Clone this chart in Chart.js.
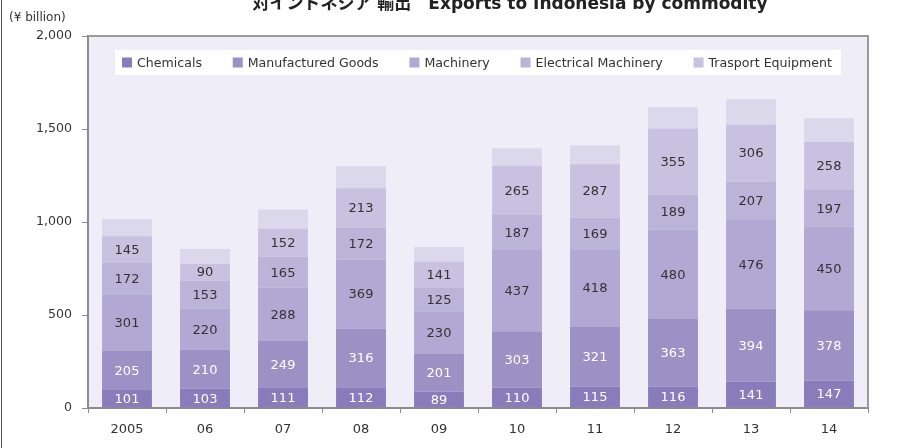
<!DOCTYPE html>
<html>
<head>
<meta charset="utf-8">
<script src="https://cdn.jsdelivr.net/npm/chart.js@4.4.1/dist/chart.umd.min.js"></script>
<style>
  html, body { margin: 0; padding: 0; background: #ffffff; }
  #wrap { width: 902px; height: 448px; position: relative; }
</style>
</head>
<body>
<div id="wrap"><canvas id="c" width="902" height="448"></canvas></div>
<script>
const titleText = '対インドネシア 輸出　Exports to Indonesia by commodity';
const unitLabel = '(¥ billion)';
const years = ['2005', '06', '07', '08', '09', '10', '11', '12', '13', '14'];
const seriesNames = ['Chemicals', 'Manufactured Goods', 'Machinery', 'Electrical Machinery', 'Trasport Equipment'];
const chemicals    = [101, 103, 111, 112,  89, 110, 115, 116, 141, 147];
const manufactured = [205, 210, 249, 316, 201, 303, 321, 363, 394, 378];
const machinery    = [301, 220, 288, 369, 230, 437, 418, 480, 476, 450];
const electrical   = [172, 153, 165, 172, 125, 187, 169, 189, 207, 197];
const transport    = [145,  90, 152, 213, 141, 265, 287, 355, 306, 258];
const others       = [ 92,  79, 102, 118,  80,  94, 103, 114, 136, 128];
const yTicks = [0, 500, 1000, 1500, 2000];

const colors = ['#8a7cba', '#9d90c5', '#b2a8d3', '#bcb3d9', '#c8c1e0', '#dcd8ec'];
const labelColors = ['#ffffff', '#ffffff', '#333333', '#333333', '#333333'];
const FONT = "'DejaVu Sans', Verdana, sans-serif";

const seriesData = [chemicals, manufactured, machinery, electrical, transport];
const datasets = seriesData.map((d, i) => ({
  label: seriesNames[i], data: d, backgroundColor: colors[i], borderWidth: 0, stack: 's'
}));
datasets.push({ label: 'Others', data: others, backgroundColor: colors[5], borderWidth: 0, stack: 's' });

const decorPlugin = {
  id: 'decor',
  beforeDraw(chart) {
    const { ctx, chartArea: a } = chart;
    ctx.save();
    ctx.fillStyle = '#efedf7';
    ctx.fillRect(a.left, a.top, a.right - a.left, a.bottom - a.top);
    ctx.restore();
  },
  afterDatasetsDraw(chart) {
    const { ctx, chartArea: a } = chart;
    ctx.save();
    // data labels
    ctx.font = '13px ' + FONT;
    ctx.textAlign = 'center';
    ctx.textBaseline = 'middle';
    for (let di = 0; di < seriesData.length; di++) {
      const meta = chart.getDatasetMeta(di);
      ctx.fillStyle = labelColors[di];
      meta.data.forEach((bar, i) => {
        const v = chart.data.datasets[di].data[i];
        ctx.fillText(String(v), bar.x, (bar.y + bar.base) / 2 + 1);
      });
    }
    // top and right border of plot area
    ctx.strokeStyle = '#9a9a9a';
    ctx.lineWidth = 2;
    ctx.beginPath();
    ctx.moveTo(a.left, a.top);
    ctx.lineTo(a.right, a.top);
    ctx.lineTo(a.right, a.bottom);
    ctx.stroke();
    // legend box
    const bx = a.left + 27, by = a.top + 14, bw = 726, bh = 25;
    ctx.fillStyle = '#ffffff';
    ctx.fillRect(bx, by, bw, bh);
    ctx.font = '12.6px ' + FONT;
    ctx.textAlign = 'left';
    const widths = seriesNames.map(n => ctx.measureText(n).width);
    const startX = bx + 7, endX = bx + bw - 9;
    const sq = 10, sqGap = 5;
    const total = widths.reduce((s, w) => s + w, 0) + seriesNames.length * (sq + sqGap);
    const gap = (endX - startX - total) / (seriesNames.length - 1);
    let x = startX;
    const cy = by + bh / 2;
    seriesNames.forEach((n, i) => {
      ctx.fillStyle = colors[i];
      ctx.fillRect(x, cy - 5, sq, sq);
      ctx.fillStyle = '#333333';
      ctx.fillText(n, x + sq + sqGap, cy + 1);
      x += sq + sqGap + widths[i] + gap;
    });
    ctx.restore();
  },
  afterDraw(chart) {
    const { ctx } = chart;
    ctx.save();
    // title (cut at top)
    ctx.font = "bold 17px 'DejaVu Sans', 'Noto Sans CJK JP', sans-serif";
    ctx.fillStyle = '#222222';
    ctx.textAlign = 'center';
    ctx.textBaseline = 'alphabetic';
    ctx.fillText(titleText, 510, 9);
    // unit label
    ctx.font = '12px ' + FONT;
    ctx.fillStyle = '#333333';
    ctx.textAlign = 'left';
    ctx.textBaseline = 'middle';
    ctx.fillText(unitLabel, 9, 18);
    // left frame line
    ctx.strokeStyle = '#555555';
    ctx.lineWidth = 1;
    ctx.beginPath();
    ctx.moveTo(1.5, 0);
    ctx.lineTo(1.5, 448);
    ctx.stroke();
    ctx.restore();
  }
};

new Chart(document.getElementById('c'), {
  type: 'bar',
  data: { labels: years, datasets },
  plugins: [decorPlugin],
  options: {
    responsive: false,
    animation: false,
    devicePixelRatio: 1,
    layout: { padding: { left: 0, right: 34, top: 36, bottom: 0 } },
    plugins: { legend: { display: false }, tooltip: { enabled: false }, title: { display: false } },
    datasets: { bar: { categoryPercentage: 1.0, barPercentage: 0.64 } },
    scales: {
      x: {
        stacked: true,
        offset: true,
        grid: { display: true, offset: true, drawOnChartArea: false, drawTicks: true, tickLength: 5, color: '#8c8c8c', lineWidth: 1 },
        border: { display: true, color: '#8c8c8c', width: 2 },
        ticks: { color: '#333333', font: { family: FONT, size: 13 }, padding: 9, maxRotation: 0 },
        afterFit(s) { s.height = 40; }
      },
      y: {
        stacked: true,
        min: 0, max: 2000,
        afterBuildTicks(s) { s.ticks = yTicks.map(v => ({ value: v })); },
        grid: { display: true, drawOnChartArea: false, drawTicks: true, tickLength: 6, color: '#8c8c8c', lineWidth: 1 },
        border: { display: true, color: '#8c8c8c', width: 2 },
        ticks: {
          color: '#333333', font: { family: FONT, size: 12.6 }, padding: 10,
          callback: v => Number(v).toLocaleString('en-US')
        },
        afterFit(s) { s.width = 88; }
      }
    }
  }
});
</script>
</body>
</html>
